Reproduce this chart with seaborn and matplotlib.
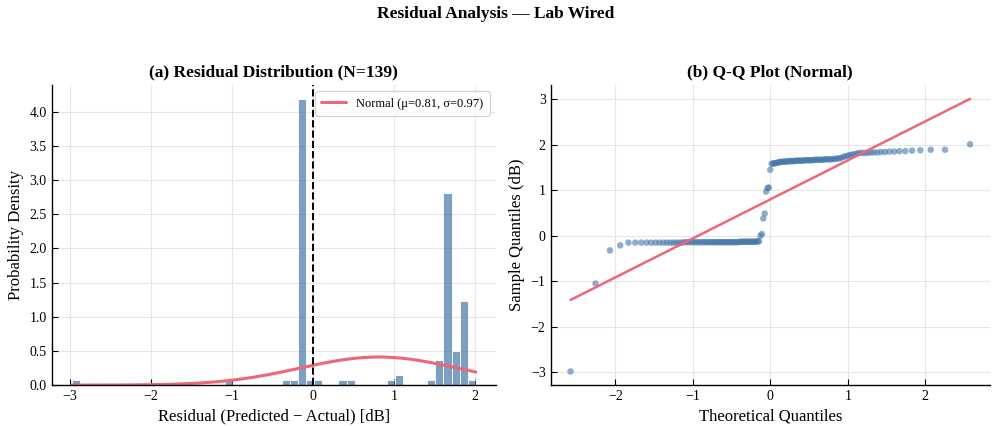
import numpy as np
import pandas as pd
import seaborn as sns
import matplotlib
matplotlib.use("Agg")
import matplotlib.pyplot as plt
from statistics import NormalDist

# residuals (predicted - actual) in dB, grouped per range
tail_low = [-2.98, -1.05, -0.32, -0.21]
cluster_zero = [-0.15] * 14 + [-0.14] * 30 + [-0.13] * 12 + [-0.12] * 2
middle = [0.00, 0.04, 0.38, 0.49, 0.97, 1.05, 1.06, 1.45]
cluster_a = [1.58, 1.59, 1.59, 1.60, 1.60]
cluster_b = ([1.62] * 3 + [1.63] * 4 + [1.64] * 5 + [1.65] * 6 + [1.66] * 6
             + [1.67] * 6 + [1.68] * 5 + [1.69] * 2 + [1.70] * 2)
cluster_c = [1.72, 1.74, 1.75, 1.77, 1.78, 1.79, 1.80]
cluster_d = ([1.82] * 4 + [1.83] * 3 + [1.84] * 2 + [1.85] * 2
             + [1.86] * 2 + [1.87, 1.88, 1.89, 1.89])
tail_high = [2.01]

residuals = np.array(tail_low + cluster_zero + middle + cluster_a
                     + cluster_b + cluster_c + cluster_d + tail_high)
n = len(residuals)

# normal fit as shown in the legend
mu_fit = 0.81
sigma_fit = 0.97

BLUE = "#4477AA"
RED = "#EE6677"

sns.set_theme(style="whitegrid")
plt.rcParams["font.family"] = ["Liberation Serif", "DejaVu Serif"]
plt.rcParams["xtick.direction"] = "in"
plt.rcParams["ytick.direction"] = "in"
plt.rcParams["text.color"] = "black"
plt.rcParams["axes.labelcolor"] = "black"

fig = plt.figure(figsize=(9.92, 4.26), dpi=100)
ax1 = fig.add_axes([0.052, 0.096, 0.448, 0.704])
ax2 = fig.add_axes([0.555, 0.096, 0.443, 0.704])

# (a) histogram
sns.histplot(x=residuals, bins=50, stat="density", color=BLUE, alpha=0.7,
             edgecolor="white", linewidth=0.6, ax=ax1)
xs = np.linspace(residuals.min(), residuals.max(), 200)
pdf = np.exp(-0.5 * ((xs - mu_fit) / sigma_fit) ** 2) / (sigma_fit * np.sqrt(2 * np.pi))
ax1.plot(xs, pdf, color=RED, lw=2.2,
         label=f"Normal (\u03bc={mu_fit:.2f}, \u03c3={sigma_fit:.2f})")
ax1.axvline(0, color="black", ls="--", lw=1.4)
ax1.set_title(f"(a) Residual Distribution (N={n})", fontsize=12.5, fontweight="bold")
ax1.set_xlabel("Residual (Predicted \u2212 Actual) [dB]", fontsize=12)
ax1.set_ylabel("Probability Density", fontsize=12)
ax1.legend(loc="upper right", fontsize=9, frameon=True, edgecolor="#cccccc",
           borderpad=0.5)

# (b) Q-Q plot (Filliben order statistic medians, like scipy probplot)
i = np.arange(1, n + 1)
m = (i - 0.3175) / (n + 0.365)
m[-1] = 0.5 ** (1 / n)
m[0] = 1 - m[-1]
theo = np.array([NormalDist().inv_cdf(p) for p in m])
ordered = np.sort(residuals)
slope, intercept = np.polyfit(theo, ordered, 1)

qq = pd.DataFrame({"theoretical": theo, "sample": ordered})
sns.scatterplot(data=qq, x="theoretical", y="sample", color=BLUE, alpha=0.6,
                s=22, edgecolor="none", ax=ax2)
ax2.plot(theo, slope * theo + intercept, color=RED, lw=1.8)
ax2.set_title("(b) Q-Q Plot (Normal)", fontsize=12.5, fontweight="bold")
ax2.set_xlabel("Theoretical Quantiles", fontsize=12)
ax2.set_ylabel("Sample Quantiles (dB)", fontsize=12)

for ax in (ax1, ax2):
    sns.despine(ax=ax)
    ax.set_facecolor("white")
    ax.grid(True, color="#e6e6e6", lw=0.8)
    for s in ("left", "bottom"):
        ax.spines[s].set_color("black")
        ax.spines[s].set_linewidth(1.0)
    ax.tick_params(labelsize=10, colors="black", length=4, width=0.8,
                   left=True, bottom=True)

fig.suptitle("Residual Analysis \u2014 Lab Wired", fontsize=12.5, fontweight="bold", y=0.985)

fig.savefig("out.png", dpi=100, facecolor="white")
